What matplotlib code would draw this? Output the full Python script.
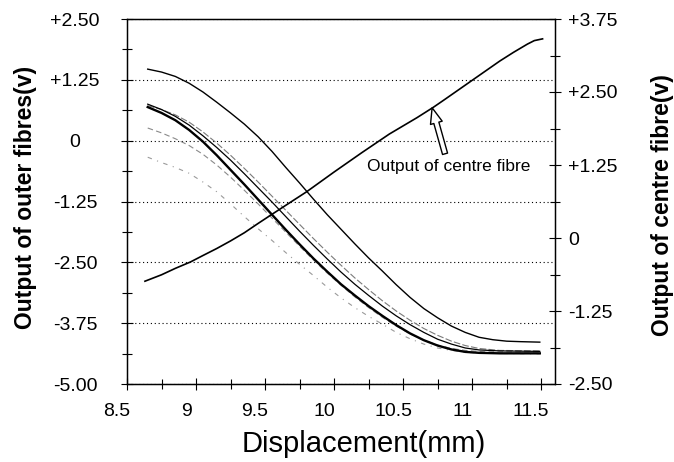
import matplotlib
matplotlib.use('Agg')
import matplotlib.pyplot as plt
from matplotlib.ticker import MultipleLocator
from matplotlib.transforms import ScaledTranslation

# ---------------- data ----------------
x_ticks = [8.5, 9, 9.5, 10, 10.5, 11, 11.5]
x_tick_labels = ["8.5", "9", "9.5", "10", "10.5", "11", "11.5"]
left_ticks = [-5.0, -3.75, -2.5, -1.25, 0.0, 1.25, 2.5]
left_tick_labels = ["-5.00", "-3.75", "-2.50", "-1.25", "0", "+1.25", "+2.50"]
right_ticks = [-2.5, -1.25, 0.0, 1.25, 2.5, 3.75]
right_tick_labels = ["-2.50", "-1.25", "0", "+1.25", "+2.50", "+3.75"]

# outer fibres (left axis)
outer_a_x = [8.65, 8.75, 8.85, 8.95, 9.05, 9.15, 9.25, 9.35, 9.45, 9.55, 9.65, 9.75, 9.85, 9.95,
             10.05, 10.15, 10.25, 10.35, 10.45, 10.55, 10.65, 10.75, 10.85, 10.95, 11.05, 11.15,
             11.25, 11.35, 11.49]
outer_a_y = [1.47, 1.41, 1.32, 1.18, 1.00, 0.79, 0.57, 0.34, 0.08, -0.22, -0.55, -0.87, -1.20, -1.52,
             -1.82, -2.12, -2.41, -2.68, -2.96, -3.22, -3.45, -3.64, -3.81, -3.94, -4.04, -4.09,
             -4.12, -4.13, -4.14]

outer_b_x = [8.65, 8.75, 8.85, 8.95, 9.05, 9.15, 9.25, 9.35, 9.45, 9.55, 9.65, 9.75, 9.85, 9.95,
             10.05, 10.15, 10.25, 10.35, 10.45, 10.55, 10.65, 10.75, 10.85, 10.95, 11.05, 11.2, 11.49]
outer_b_y = [0.69, 0.57, 0.42, 0.22, -0.02, -0.30, -0.60, -0.90, -1.21, -1.52, -1.83, -2.13, -2.42, -2.69,
             -2.95, -3.18, -3.40, -3.60, -3.79, -3.96, -4.10, -4.21, -4.29, -4.34, -4.36, -4.37, -4.37]

outer_c_x = [8.65, 8.75, 8.85, 8.95, 9.05, 9.15, 9.25, 9.35, 9.45, 9.55, 9.65, 9.75, 9.85, 9.95,
             10.05, 10.15, 10.25, 10.35, 10.45, 10.55, 10.65, 10.75, 10.85, 10.95, 11.05, 11.2, 11.49]
outer_c_y = [0.75, 0.64, 0.50, 0.32, 0.10, -0.14, -0.40, -0.68, -0.97, -1.26, -1.56, -1.86, -2.15, -2.43,
             -2.70, -2.95, -3.18, -3.40, -3.60, -3.78, -3.94, -4.08, -4.18, -4.26, -4.30, -4.32, -4.33]

outer_d_x = [8.65, 8.75, 8.85, 8.95, 9.05, 9.15, 9.25, 9.35, 9.45, 9.55, 9.65, 9.75, 9.85, 9.95,
             10.05, 10.15, 10.25, 10.35, 10.45, 10.55, 10.65, 10.75, 10.85, 10.95, 11.05, 11.2, 11.49]
outer_d_y = [0.72, 0.64, 0.53, 0.38, 0.18, -0.05, -0.30, -0.57, -0.85, -1.14, -1.43, -1.72, -2.01, -2.29,
             -2.56, -2.82, -3.06, -3.29, -3.50, -3.69, -3.86, -4.00, -4.12, -4.21, -4.27, -4.31, -4.32]

outer_e_x = [8.65, 8.75, 8.85, 8.95, 9.05, 9.15, 9.25, 9.35, 9.45, 9.55, 9.65, 9.75, 9.85, 9.95,
             10.05, 10.15, 10.25, 10.35, 10.45, 10.55, 10.65, 10.75, 10.85, 10.95, 11.1, 11.49]
outer_e_y = [0.26, 0.16, 0.04, -0.10, -0.28, -0.50, -0.75, -1.02, -1.30, -1.59, -1.88, -2.17, -2.45, -2.72,
             -2.97, -3.21, -3.43, -3.63, -3.81, -3.97, -4.10, -4.20, -4.27, -4.31, -4.34, -4.34]

outer_f_x = [8.65, 8.75, 8.85, 8.95, 9.05, 9.15, 9.25, 9.35, 9.45, 9.55, 9.65, 9.75, 9.85, 9.95,
             10.05, 10.15, 10.25, 10.35, 10.45, 10.55, 10.65, 10.75, 10.85, 10.95, 11.1, 11.49]
outer_f_y = [-0.34, -0.45, -0.55, -0.67, -0.85, -1.05, -1.30, -1.56, -1.81, -2.05, -2.30, -2.54, -2.77, -3.01,
             -3.23, -3.43, -3.61, -3.77, -3.94, -4.07, -4.18, -4.26, -4.31, -4.35, -4.37, -4.38]

# centre fibre (right axis)
centre_x = [8.63, 8.75, 8.85, 8.96, 9.05, 9.15, 9.25, 9.35, 9.45, 9.54, 9.65, 9.80, 10.0, 10.2,
            10.4, 10.6, 10.72, 10.8, 11.0, 11.2, 11.3, 11.4, 11.45, 11.51]
centre_y = [-0.74, -0.63, -0.52, -0.41, -0.30, -0.18, -0.05, 0.09, 0.25, 0.39, 0.56, 0.79, 1.13, 1.46,
            1.78, 2.06, 2.24, 2.37, 2.70, 3.03, 3.18, 3.32, 3.38, 3.41]

annot_text = "Output of centre fibre"
annot_xy = (10.71, 2.23)
annot_xytext = (10.83, 1.22)

# ---------------- figure ----------------
plt.rcParams['font.family'] = ['Liberation Sans', 'DejaVu Sans']
fig = plt.figure(figsize=(6.74, 4.62), dpi=100)
ax = fig.add_axes([127/674, 1-384/462, (555-127)/674, (384-19)/462])

ax.plot(outer_f_x, outer_f_y, color='#9a9a9a', lw=0.8, ls=(0, (4, 5, 1, 5)))
ax.plot(outer_e_x, outer_e_y, color='#8a8a8a', lw=0.8, ls=(0, (5, 3)))
ax.plot(outer_d_x, outer_d_y, color='#7a7a7a', lw=0.8, ls=(0, (6, 2)))
ax.plot(outer_c_x, outer_c_y, color='black', lw=0.9)
ax.plot(outer_b_x, outer_b_y, color='black', lw=1.7)
ax.plot(outer_a_x, outer_a_y, color='black', lw=1.0)

ax.set_xlim(8.5, 11.6)
ax.set_ylim(-5.0, 2.5)
ax.set_xticks(x_ticks)
ax.set_xticklabels(x_tick_labels, fontsize=14)
ax.xaxis.set_minor_locator(MultipleLocator(0.25))
ax.set_yticks(left_ticks)
ax.set_yticklabels(left_tick_labels, fontsize=14)
ax.yaxis.set_minor_locator(MultipleLocator(0.625))
ax.grid(axis='y', which='major', color='black', lw=0.8, ls=(0, (1, 2.5)))

for a in ['top', 'bottom', 'left', 'right']:
    ax.spines[a].set_linewidth(1.0)

ax.tick_params(axis='both', which='major', direction='inout', length=9, width=0.8)
ax.tick_params(axis='both', which='minor', direction='inout', length=7, width=0.8)
ax.tick_params(axis='x', which='major', pad=9)
ax.tick_params(axis='y', which='major', pad=33)
for lab in ax.get_yticklabels():
    lab.set_horizontalalignment('center')
off = ScaledTranslation(-10/100, 0, fig.dpi_scale_trans)
for lab in ax.get_xticklabels():
    lab.set_transform(lab.get_transform() + off)

ax.set_ylabel("Output of outer fibres(v)", fontsize=16.5, fontweight='bold', va='center')
ax.yaxis.set_label_coords(-0.238, 0.51)
ax.set_xlabel("Displacement(mm)", fontsize=21)
ax.xaxis.set_label_coords(0.554, -0.125)

ax2 = ax.twinx()
ax2.plot(centre_x, centre_y, color='black', lw=1.2)
ax2.set_ylim(-2.5, 3.75)
ax2.set_yticks(right_ticks)
ax2.set_yticklabels(right_tick_labels, fontsize=14)
ax2.yaxis.set_minor_locator(MultipleLocator(0.625))
ax2.tick_params(axis='y', which='major', direction='inout', length=9, width=0.8, pad=5)
ax2.tick_params(axis='y', which='minor', direction='inout', length=7, width=0.8)
ax2.set_ylabel("Output of centre fibre(v)", fontsize=16.5, fontweight='bold', va='center')
ax2.yaxis.set_label_coords(1.25, 0.49)

ax2.annotate(annot_text, xy=annot_xy, xytext=annot_xytext, fontsize=12.5,
             ha='center', va='center',
             arrowprops=dict(arrowstyle='simple,head_length=0.9,head_width=0.7,tail_width=0.3',
                             fc='white', ec='black', lw=1.0, shrinkA=2, shrinkB=0))

fig.savefig('out.png', dpi=100)
